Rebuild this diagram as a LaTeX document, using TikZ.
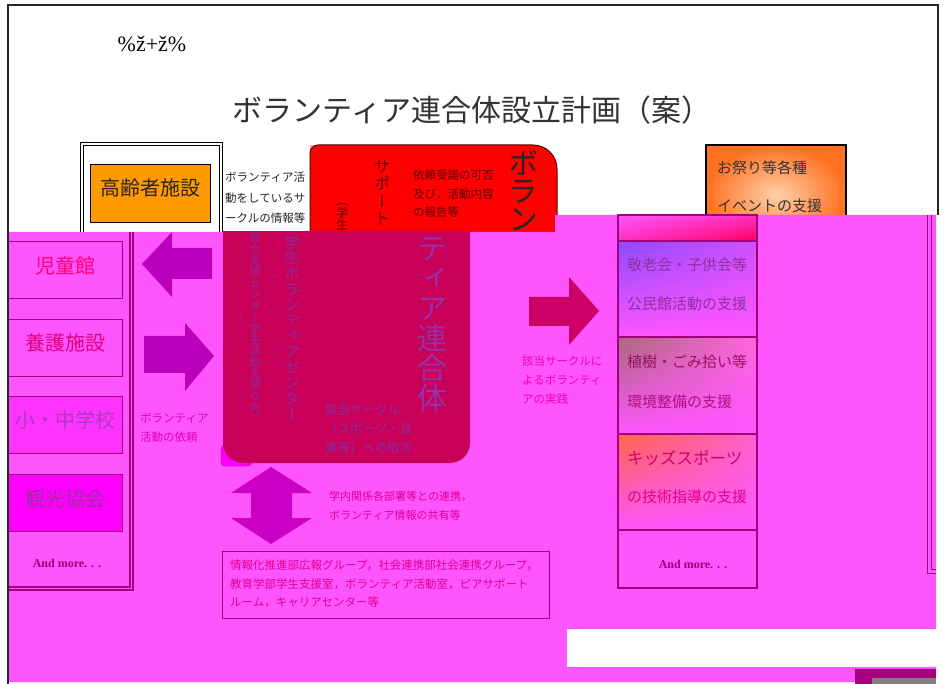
\documentclass[tikz,border=0pt]{standalone}
\usepackage{fontspec}
\setmainfont{Liberation Serif}
\newfontfamily\jp{Noto Sans CJK JP}
\newfontfamily\jpv[RawFeature=+vert]{Noto Sans CJK JP}
\usetikzlibrary{positioning,shadings}

\definecolor{pagemag}{HTML}{FF55FF}
\definecolor{brightmag}{HTML}{FF00FF}
\definecolor{schoolfill}{HTML}{FF33FF}
\definecolor{framepurple}{HTML}{A0007E}
\definecolor{crimsonbox}{HTML}{C8005A}
\definecolor{arrowpurple}{HTML}{BB00BB}
\definecolor{arrowdouble}{HTML}{CC00C4}
\definecolor{arrowcrimson}{HTML}{CC0066}
\definecolor{orangefill}{HTML}{FF9900}
\definecolor{festorange}{HTML}{FF7020}
\definecolor{festlight}{HTML}{FFD0A8}
\definecolor{titlegray}{HTML}{333333}
\definecolor{darkred}{HTML}{5A0505}
\definecolor{pinkpatch}{HTML}{F6A0D6}
\definecolor{textpurple}{HTML}{8C2C9C}
\definecolor{rengoupurple}{HTML}{9630A8}
\definecolor{morepurple}{HTML}{990077}
\definecolor{linkpink}{HTML}{DD0090}
\definecolor{requestpink}{HTML}{DD00BB}
\definecolor{practicepink}{HTML}{EE00AA}
\definecolor{jidokantext}{HTML}{FF0070}
\definecolor{yougotext}{HTML}{E0007A}
\definecolor{schooltext}{HTML}{B038C0}
\definecolor{kankotext}{HTML}{A02CA8}
\definecolor{topcellred}{HTML}{FF0060}
\definecolor{topcellmid}{HTML}{FF30C0}
\definecolor{keirouviolet}{HTML}{8A4BFF}
\definecolor{keiroumid}{HTML}{D050FF}
\definecolor{shokujubrown}{HTML}{A86A78}
\definecolor{shokujumid}{HTML}{FF66E0}
\definecolor{kidsorange}{HTML}{FF6648}
\definecolor{kidsmid}{HTML}{FF60D0}
\definecolor{keiroutext}{HTML}{9030A0}
\definecolor{shokujutext}{HTML}{9A1060}
\definecolor{kankyoutext}{HTML}{B01080}
\definecolor{kidstext}{HTML}{CC0066}
\definecolor{shidoutext}{HTML}{DD0088}
\definecolor{darkblock}{HTML}{A8007E}

\begin{document}
\begin{tikzpicture}[x=1pt,y=-1pt,
  jtxt/.style 2 args={inner sep=0pt,anchor=north west,align=left,
    font={\jp\fontsize{#1}{#2}\selectfont}},
  vtxt/.style 2 args={inner sep=0pt,anchor=north,align=center,
    font={\jpv\fontsize{#1}{#2}\selectfont}},
  leftcell/.style={draw=framepurple,line width=1pt,inner sep=0pt,
    minimum width=114pt,minimum height=57pt},
  rightcell/.style={draw=framepurple,line width=1.5pt,inner sep=0pt,
    minimum width=139pt},
  celltext/.style={font={\jp\fontsize{20}{20}\selectfont},inner sep=0pt},
  morelabel/.style={font=\bfseries\fontsize{12}{12}\selectfont,
    text=morepurple,inner sep=0pt}]
\useasboundingbox (0,0) rectangle (945,684);
\fill[white] (0,0) rectangle (945,684);

% header
\node[font=\fontsize{22}{22}\selectfont,inner sep=0pt] (code) at (152,44) {\%ž+ž\%};
\node[font={\jp\fontsize{30}{30}\selectfont},text=titlegray,inner sep=0pt]
  (title) at (472,110) {ボランティア連合体設立計画（案）};

% upper row
\draw[line width=1pt] (80,240) -- (80,143) -- (222,143) -- (222,240);
\draw[line width=1pt] (83,240) -- (83,146) -- (219,146) -- (219,240);
\node[draw=black,fill=orangefill,inner sep=0pt,minimum width=120pt,minimum height=58pt,
  label={[celltext,text=black!85,yshift=5pt]center:高齢者施設}] (elderly) at (150.5,193) {};
\node[jtxt={11.5}{20.5},text=black!85] (circleinfo) at (225,172)
  {ボランティア活\\動をしているサ\\ークルの情報等};

\fill[pinkpatch] (310,145) rectangle (320,155);
\filldraw[fill=red,draw=darkred,line width=1pt] (310,300) [rounded corners=8] -- (310,145)
  [rounded corners=24] -- (557,145) [sharp corners] -- (557,300) -- cycle;
\node[vtxt={12}{11},text=darkred] (student) at (342,203) {（\\学\\生};
\node[vtxt={16}{17.5},text=darkred] (support) at (382,160) {サ\\ポ\\ー\\ト};
\node[jtxt={11.5}{18.5},text=darkred] (report) at (413,170)
  {依頼受諾の可否\\及び，活動内容\\の報告等};
\node[vtxt={30}{28},text=black!85] (volun) at (523,150) {ボ\\ラ\\ン};

\node[draw=black,line width=1.2pt,inner color=festlight,outer color=festorange,
  minimum width=140pt,minimum height=100pt] (festbox) at (776,195) {};
\node[jtxt={15}{38.5},text=black!80] (festival) at (717,160.5)
  {お祭り等各種\\イベントの支援};

% overlay
\fill[pagemag] (9,232) -- (555,232) -- (555,215) -- (936,215) -- (936,682) -- (9,682) -- cycle;

% left column
\draw[framepurple,line width=1.2pt] (130,232) -- (130,587) -- (9,587);
\draw[framepurple,line width=1.2pt] (133,232) -- (133,590) -- (9,590);
\node[leftcell,fill=pagemag,
  label={[celltext,text=jidokantext,yshift=5pt]center:児童館}] (jidokan) at (65,270.5) {};
\node[leftcell,fill=pagemag,
  label={[celltext,text=yougotext,yshift=5pt]center:養護施設}] (yougo) at (65,348) {};
\node[leftcell,fill=schoolfill,
  label={[celltext,text=schooltext,yshift=5pt]center:小・中学校}] (school) at (65,425) {};
\node[leftcell,fill=brightmag,
  label={[celltext,text=kankotext,yshift=4pt]center:観光協会}] (kanko) at (65,502.5) {};
\node[morelabel] (moreleft) at (67,563) {And more. . .};

\fill[arrowpurple] (142,264) -- (172,232) -- (172,248) -- (212,248) -- (212,279)
  -- (172,279) -- (172,297) -- cycle;
\fill[arrowpurple] (144,336) -- (185,336) -- (185,323) -- (214,356) -- (185,391)
  -- (185,373) -- (144,373) -- cycle;
\node[jtxt={11.5}{19},text=requestpink] (request) at (140,413) {ボランティア\\活動の依頼};

% centre block
\filldraw[fill=brightmag,draw=framepurple,rounded corners=4] (221,445) rectangle (252,466);
\begin{scope}
  \clip (0,232) rectangle (945,684);
  \fill[crimsonbox,rounded corners=20] (223,200) rectangle (470,463);
\end{scope}
\node[vtxt={11}{11.3},text=textpurple] (sougou) at (255,232.5)
  {総\\合\\支\\援\\セ\\ン\\タ\\ー\\学\\生\\活\\動\\支\\援\\Ｇ\\内\\）};
\node[vtxt={15}{15.6},text=textpurple] (stdcenter) at (292,235.5)
  {学\\生\\ボ\\ラ\\ン\\テ\\ィ\\ア\\セ\\ン\\タ\\ー};
\node[vtxt={30}{30},text=rengoupurple] (rengou) at (432,237) {テ\\ィ\\ア\\連\\合\\体};
\node[jtxt={12.5}{19},text=textpurple] (toritsugi) at (325,404)
  {該当サークル\\（スポーツ・音\\楽等）への取次};

\fill[arrowdouble] (271,467) -- (312,493) -- (292,493) -- (292,518) -- (312,518)
  -- (271,544) -- (231,518) -- (251,518) -- (251,493) -- (231,493) -- cycle;
\node[jtxt={11}{19.5},text=linkpink] (renkei) at (329,490.5)
  {学内関係各部署等との連携，\\ボランティア情報の共有等};
\node[draw=framepurple,line width=1pt,inner sep=0pt,minimum width=327pt,
  minimum height=67pt] (deptbox) at (385.5,584.5) {};
\node[jtxt={11.5}{18.5},text=linkpink] (depts) at (230,560)
  {情報化推進部広報グループ，社会連携部社会連携グループ，\\教育学部学生支援室，ボランティア活動室，ピアサポート\\ルーム，キャリアセンター等};

\fill[arrowcrimson] (529,297) -- (569,297) -- (569,277) -- (599,311) -- (569,345)
  -- (569,326) -- (529,326) -- cycle;
\node[jtxt={11.5}{19},text=practicepink] (practice) at (522,356)
  {該当サークルに\\よるボランティ\\アの実践};

% right column
\node[rightcell,minimum height=26pt,upper left=pagemag,upper right=topcellmid,
  lower left=topcellmid,lower right=topcellred] (topcell) at (687.5,228) {};
\node[rightcell,minimum height=96pt,upper left=keirouviolet,upper right=keiroumid,
  lower left=pagemag,lower right=pagemag] (keiroucell) at (687.5,289) {};
\node[rightcell,minimum height=97pt,upper left=shokujubrown,upper right=shokujumid,
  lower left=pagemag,lower right=pagemag] (shokujucell) at (687.5,385.5) {};
\node[rightcell,minimum height=96pt,upper left=kidsorange,upper right=kidsmid,
  lower left=pagemag,lower right=pagemag] (kidscell) at (687.5,482) {};
\node[rightcell,minimum height=58pt] (morecell) at (687.5,559) {};
\node[jtxt={15}{39},text=keiroutext] (keirou) at (627,257.5)
  {敬老会・子供会等\\公民館活動の支援};
\node[jtxt={15}{40},text=shokujutext] (shokuju) at (627,354.5)
  {植樹・ごみ拾い等\\\textcolor{kankyoutext}{環境整備の支援}};
\node[jtxt={16.5}{16.5},text=kidstext] (kids) at (627,449.8) {キッズスポーツ};
\node[jtxt={15}{15},text=shidoutext] (shidou) at (627,489.5) {の技術指導の支援};
\node[morelabel] (moreright) at (693,564) {And more. . .};

\draw[framepurple,line width=1pt] (927,215) -- (927,573) -- (936,573);
\draw[framepurple,line width=1pt] (931,215) -- (931,569.5) -- (936,569.5);

% bottom
\fill[white] (567,629) rectangle (938,667);
\fill[darkblock] (855,669) rectangle (936,684);
\fill[gray] (872,678) rectangle (936,684);

% page border
\draw[line width=1.5pt,black!85] (8,684) -- (8,5) -- (938,5) -- (938,215);
\end{tikzpicture}
\end{document}
